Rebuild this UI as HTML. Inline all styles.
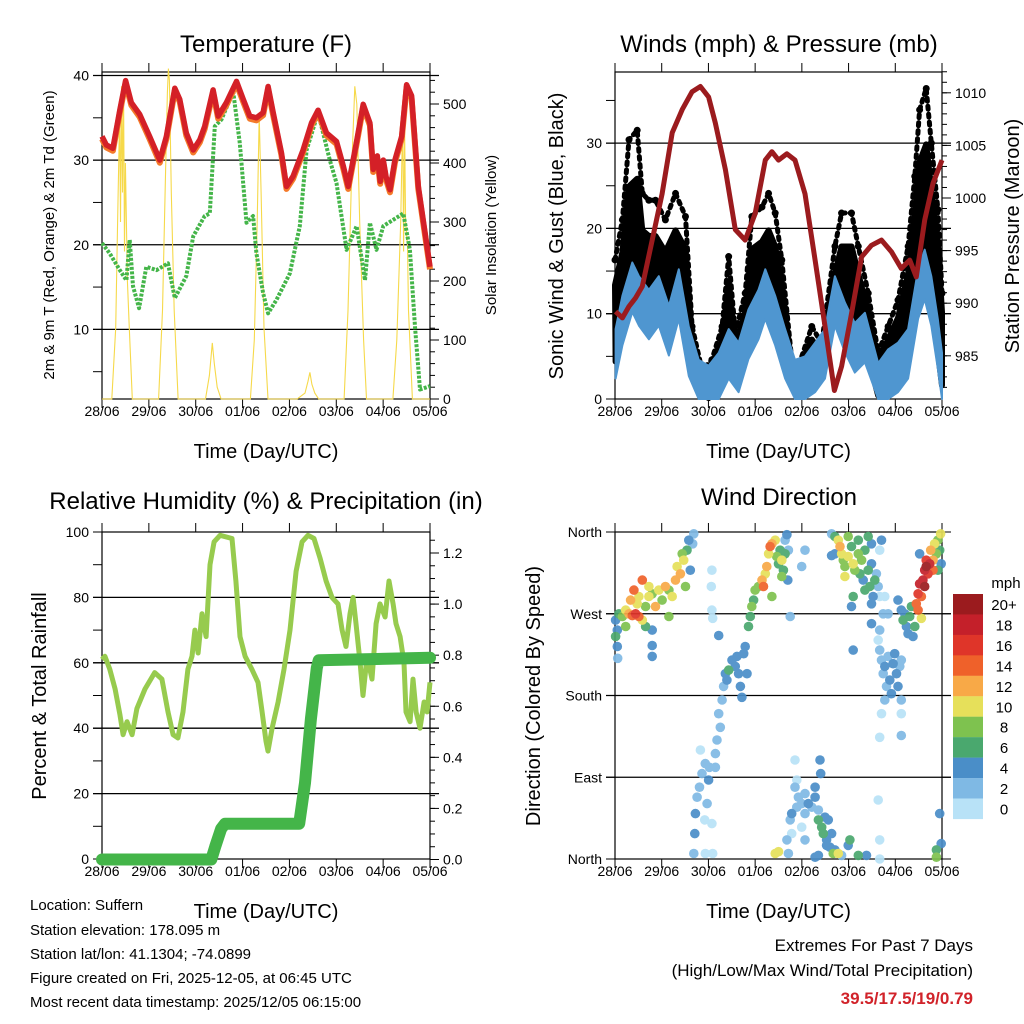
<!DOCTYPE html>
<html><head><meta charset="utf-8">
<style>
html,body{margin:0;padding:0;background:#fff;}
svg{display:block;font-family:"Liberation Sans",sans-serif;}
</style></head>
<body>
<svg id="chart" width="1024" height="1024" viewBox="0 0 1024 1024" xmlns="http://www.w3.org/2000/svg">
<text x="266" y="52" font-size="24" text-anchor="middle">Temperature (F)</text>
<text x="779" y="52" font-size="24" text-anchor="middle">Winds (mph) &amp; Pressure (mb)</text>
<text x="266" y="509" font-size="24" text-anchor="middle">Relative Humidity (%) &amp; Precipitation (in)</text>
<text x="779" y="505" font-size="24" text-anchor="middle">Wind Direction</text>
<g font-size="15">
<text x="30" y="910">Location: Suffern</text>
<text x="30" y="935">Station elevation: 178.095 m</text>
<text x="30" y="959">Station lat/lon: 41.1304; -74.0899</text>
<text x="30" y="983">Figure created on Fri, 2025-12-05, at 06:45 UTC</text>
<text x="30" y="1007">Most recent data timestamp: 2025/12/05 06:15:00</text>
</g>
<text x="973" y="951" font-size="17" text-anchor="end">Extremes For Past 7 Days</text>
<text x="973" y="976" font-size="17" text-anchor="end">(High/Low/Max Wind/Total Precipitation)</text>
<text x="973" y="1004" font-size="17" font-weight="bold" fill="#d1232a" text-anchor="end">39.5/17.5/19/0.79</text>
</svg>
<script>
// ---------- DATA ----------
const dayLabels = ["28/06","29/06","30/06","01/06","02/06","03/06","04/06","05/06"];
const tempHours = [0,2.2,5.6,9.1,12.1,15,19.3,24.4,29.6,33,37.3,39.8,43.2,46.7,50.1,52.6,56.9,59.5,63.7,68.9,72.3,75.7,79.1,82.5,85.1,87.7,91.9,94.5,97.9,103,107.3,110.7,115,120.1,123.6,126.1,130.4,133.8,137.2,138.9,141,142.5,144.1,145.5,147.5,150,153.5,156,158.6,162,168];
const tempValues = [32.8,31.8,31.4,35.9,39.4,36.8,35.4,32.8,30.0,32.8,38.5,37.2,33.2,31.2,32.4,34.0,38.3,35.2,36.8,39.3,37.2,35.2,35.0,35.6,38.7,35.6,30.9,26.9,28.1,31.2,34.4,35.9,33.2,32.2,29.3,26.9,32.2,36.6,34.4,28.9,30.5,27.5,30.0,28.0,26.5,30.0,32.8,38.9,37.6,26.9,17.4];
const dewHours = [0,3.9,9.1,12.5,14.2,15.9,19,22.7,27.9,33.8,37.3,43.2,46.7,52.6,55.2,57.8,61.2,67.2,70.6,74,77.4,79.1,82.5,85.1,89.4,96.2,101.3,104.8,110.7,116.7,120.1,125.3,130.4,134.7,137.2,140.6,144.1,154.3,157.7,160.3,162.9,168];
const dewValues = [20.2,19.0,17.0,15.8,20.6,15.1,12.5,17.4,17.0,17.8,13.7,16.3,21.0,23.4,23.7,34.0,34.8,38.1,32.0,22.6,23.4,19.0,14.3,11.9,13.5,16.6,22.2,31.2,35.6,30.0,27.3,19.4,22.2,15.8,22.6,19.4,22.2,23.7,19.4,10.3,2.9,3.3];
const solarHours = [0,5,7,8,9,9.5,10,10.5,11,11.5,12,13,14,15.5,29,31,32.5,33.5,34,34.5,35.5,37,39,53,55,56.5,57.5,59,61,76,78,79.5,80.5,81.5,83,85,100,104,105.5,106.5,107.5,109,111,124,126,128,129.5,130.5,132,134,135.5,149,151,153,154,154.5,155,155.5,156.5,157,159,168];
const solarValues = [0,0,120,300,480,300,530,350,540,250,400,200,120,0,0,150,380,520,560,540,350,150,0,0,40,95,60,20,0,0,100,300,480,350,120,0,0,10,30,45,25,10,0,0,150,400,530,500,300,100,0,0,100,300,480,250,460,300,260,150,0,0];
const windHours = [0.3,3.8,8.9,12.3,17.4,22.5,27.7,32.8,37.9,43,48.1,53.3,58.4,63.5,68.6,73.7,77.2,82.3,87.4,92.5,97.6,102.8,107.9,113,118.1,123.2,128.4,135.2,140.3,145.4,150.6,155.7,159.1,162.5,165.9,168];
const windValues = [5.4,9.3,13.2,11.6,10,11.6,8.1,12.4,5.7,1.8,1.1,2.6,5.4,3.8,7.7,10,12.4,9.3,5.4,1.8,2.2,3.8,5.4,11.6,8.5,6.1,7.3,1.4,3,3.8,5.4,12.4,14.7,11.6,6.5,2.6];
const gustHours = [0,3.8,7.2,11.4,14,17.4,20.8,25.9,31.1,36.2,39.6,44.7,49.8,55,58.4,61.8,66.9,70.3,75.5,78.9,82.3,85.7,90.8,94.2,101.1,106.2,113,116.4,121.5,125,130.1,135.2,140.3,145.4,150.6,154,156.5,159.9,162.5,165.9,168];
const gustValues = [16.3,21,30.4,31.5,24.1,23.3,23.3,21,24.1,21.4,8.5,3.4,4.6,8.5,16.7,7.7,12.4,21.4,22.5,24.1,21.8,16.3,4.6,3.8,8.5,6.5,17.9,21.8,21.8,17.9,12.4,5.4,8.5,11.6,17.9,26.1,33.9,36.4,30,22.2,12.4];
const presHours = [0.3,3.8,7.2,10.6,14,19.1,24.2,29.4,34.5,39.6,43.9,48.1,51.6,56.7,61.8,66.9,72,77.2,80.6,84,88.3,92.5,97.6,102.8,107.9,112.7,116.4,121.5,126.7,131.8,136.9,142,147.1,151.4,154.8,159.1,163.4,168];
const presValues = [989.2,988.6,989.7,990.5,991.6,996.0,1000.4,1006.2,1008.4,1010.1,1010.6,1009.6,1007.1,1002.7,997.0,996.0,998.5,1003.6,1004.4,1003.6,1004.2,1003.6,1000.4,994.1,987.8,981.7,984.0,989.0,994.4,995.5,996.0,994.9,993.3,994.1,992.5,997.9,1001.4,1003.6];
const rhHours = [0,1.5,4,6.7,9.2,10.8,12.8,15.4,17.9,22,27,30.7,33.8,36.4,38.9,41.5,44,46.1,47.6,49.2,51.2,53.3,55.3,57.4,60.5,66.6,68.6,70.7,73.3,76.8,79.9,82,84,85,87.1,90.2,93.2,96.3,99.4,102.5,105.5,108.6,111.7,114.8,117.8,120.9,123,125,127,128.6,130.1,132.2,133.7,135.8,138.3,140.4,142.4,145,147,149.1,150.6,152.7,154.7,155.7,157.8,159.3,160.9,162.9,165,166.5,168];
const rhValues = [61,62,58,52,44,38,42,38,46,52,57,55,45,38,37,45,58,62,70,63,75,68,90,97,99,98,85,68,62,58,54,45,36,33,40,48,58,70,88,97,99,98,92,85,80,78,70,65,75,80,72,60,50,62,55,72,78,74,85,78,72,68,60,45,42,55,45,40,48,45,54];
const precipHours = [0,56,58,61,63,101,104,107,110,111,168];
const precipValues = [0,0,0.05,0.12,0.14,0.14,0.3,0.55,0.75,0.78,0.79];
const dirHours = [0.3,1.2,2,3.8,5.5,7.2,8.9,10.6,12.3,14,8,9.7,11.4,14,15.7,17.4,19.1,20.8,22.5,24.2,25.9,27.7,29.4,31.1,31.9,33.6,35.3,36.2,37,37.9,38.7,39.9,40.5,19.1,19.1,19.1,1.2,1.4,0.3,15.7,5.5,27.7,12.3,17.4,34.5,
49.8,49.5,49.8,50.2,
40.5,41,41.3,42.2,43.4,44.7,46.1,46.4,47.3,48.1,48.5,49.8,50.2,43.9,46.4,51.6,51.6,52.4,54.1,53.3,55,55.8,56.7,58.4,57.5,60.1,61.8,63.5,64.4,65.2,62.7,66.1,66.9,67.8,53.3,68.6,69.5,70.3,71.2,72,73.7,75.5,76.3,77.2,78,78.9,79.7,80.6,82.3,83.1,84,84.8,85.7,86.5,87.4,85.7,80.6,87.4,88.3,89.1,90,95.9,97.6,88.8,
89.1,88.3,90,90.8,92.5,93.4,94.2,95.9,97.6,97.6,99.3,101.1,102.8,102.8,104.5,90.8,92.5,93.4,95.9,97.6,104.5,106.2,107,107.9,108.7,109.6,110.4,111.3,112.1,113,114.7,116.4,105.3,105.7,102.8,82.3,84,119.8,120.7,125,129.2,136,136,135.2,104.5,108.7,
111.3,113,114.7,115.6,116.4,117.3,118.1,119.8,121.5,122.4,123.2,125,125,125.8,126.7,127.5,128.4,130.1,130.9,131.8,131.8,132.6,133.5,134.3,135.2,136,138.6,128.4,122.4,121.5,118.1,113,111.3,119.8,130.1,131.8,136,136.9,
131.8,135.2,136,136.9,137.8,138.6,139.5,140.3,141.2,142,142.9,143.7,144.6,145.4,146.3,147.1,147.1,138.6,137.8,140.3,136,147.1,122.4,145.4,147.1,136.9,136,147.1,
148,148.9,149.7,150.6,151.4,152.3,153.1,154,154.8,155.7,156.5,157.4,158.2,159.1,159.9,160.8,161.7,162.2,163.4,164.2,165.1,165.9,166.8,167.6,167.3,157.4,155.7,159.1,159.9,163.4,165.9,166.8,167.6,165.1,165.1,156.5];
const dirDegrees = [263,252,270,267,274,270,268,270,267,263,285,296,281,307,278,289,292,278,296,285,300,296,289,307,322,314,329,300,340,351,318,347,358,252,235,223,234,221,245,256,256,267,289,300,336,
318,300,274,265,
6,28,50,68,79,94,43,6,61,87,101,39,6,120,105,116,101,131,145,160,175,190,204,208,197,219,212,204,190,178,223,226,234,204,246,256,267,278,285,296,300,307,300,314,322,336,344,347,351,333,325,340,329,318,336,311,289,351,357,340,267,322,340,307,
6,21,43,50,79,57,68,61,72,50,61,57,79,68,54,28,109,87,35,21,43,35,28,46,21,43,13,28,6,10,6,4,109,94,2,6,8,15,21,4,4,21,0,65,4,15,
358,355,351,344,336,329,322,333,344,325,318,351,336,314,329,307,340,318,300,347,325,289,307,314,300,289,289,296,289,278,311,336,334,355,355,281,340,351,
259,241,230,219,204,212,190,223,197,182,215,226,204,190,212,219,175,175,270,270,134,136,230,285,274,160,252,160,
263,270,256,248,267,278,245,256,281,292,303,289,307,318,329,314,325,340,329,347,336,351,340,325,358,265,274,300,322,318,318,50,17,10,2,336];
const dirSpeeds = [4,4,6,8,10,12,14,16,14,10,12,14,10,14,8,10,8,12,10,8,12,8,10,12,10,12,10,8,6,4,4,2,2,4,4,4,4,2,6,6,8,8,10,10,8,
0,0,0,0,
2,4,4,2,2,2,0,0,2,4,2,0,0,0,2,2,2,2,2,2,2,2,4,6,4,4,4,4,4,4,4,4,4,4,4,6,6,8,6,8,8,12,14,10,12,10,14,12,10,8,6,6,10,6,6,8,8,2,4,2,2,2,2,4,
2,2,2,4,2,2,2,2,2,2,4,2,4,4,2,0,0,0,0,2,6,6,6,4,4,4,4,4,8,4,10,2,4,4,4,10,10,4,6,6,4,0,0,0,4,4,
2,6,10,12,10,8,8,10,6,10,8,6,8,6,8,4,6,6,6,4,4,4,6,2,2,0,0,6,6,4,10,4,4,8,6,4,0,4,
4,0,2,2,2,4,2,2,4,4,4,4,4,4,2,2,2,2,2,2,0,2,4,4,4,0,2,0,
6,4,4,4,6,6,4,6,14,16,18,14,18,18,16,16,18,12,12,10,8,8,6,4,10,10,14,20,20,14,6,4,4,6,8,4];
const speedBins = ["0","2","4","6","8","10","12","14","16","18","20+"];
const speedColors = ["#b8e2f7","#7fb9e4","#4a8ec8","#4aa86e","#7ec24f","#e6e05a","#f8a947","#ef612a","#df3529","#c4202a","#9b1b1e"];

// ---------- HELPERS ----------
const svg = document.getElementById('chart');
const NS = 'http://www.w3.org/2000/svg';
function mk(tag, attrs, parent) {
  const e = document.createElementNS(NS, tag);
  for (const k in attrs) e.setAttribute(k, attrs[k]);
  (parent || svg).appendChild(e);
  return e;
}
function lin(d0, d1, r0, r1) { return v => r0 + (v - d0) / (d1 - d0) * (r1 - r0); }
function pathFrom(xs, ys, fx, fy) {
  return xs.map((h, i) => (i ? 'L' : 'M') + fx(h).toFixed(1) + ' ' + fy(ys[i]).toFixed(1)).join(' ');
}
function txt(x, y, s, size, anchor, parent, rot) {
  const t = mk('text', {x: x, y: y, 'font-size': size, 'text-anchor': anchor || 'middle'}, parent);
  if (rot) t.setAttribute('transform', 'rotate(' + rot + ' ' + x + ' ' + y + ')');
  t.textContent = s;
  return t;
}
function frame(x0, x1, y0, y1, name) {
  const g = mk('g', {});
  
  
  const fx = lin(0, 168, x0, x1);
  for (let d = 0; d < 8; d++) {
    const x = fx(d * 24);
    mk('line', {x1: x, y1: y1, x2: x, y2: y1 + 9, stroke: '#000', 'stroke-width': 1}, g);
    mk('line', {x1: x, y1: y0, x2: x, y2: y0 - 9, stroke: '#000', 'stroke-width': 1}, g);
    const t = txt(x, y1 + 17, dayLabels[d], 14, 'middle', g);
    
    
  }
  const tt = txt((x0 + x1) / 2, y1 + 59, 'Time (Day/UTC)', 20, 'middle', g);
  
  
  return {g: g, fx: fx};
}
function box(x0, x1, y0, y1, g) {
  mk('rect', {x: x0, y: y0, width: x1 - x0, height: y1 - y0, fill: 'none', stroke: '#000', 'stroke-width': 1.2}, g);
}
function leftTicks(ticks, labels, fy, x0, x1, grid, g, minor) {
  ticks.forEach((v, i) => {
    const y = fy(v);
    mk('line', {x1: x0 - 9, y1: y, x2: x0, y2: y, stroke: '#000'}, g);
    if (labels[i] !== '') {
      const t = txt(x0 - 13, y + 5, labels[i], 14, 'end', g);
      
      
    }
    if (grid[i]) mk('line', {x1: x0 - 9, y1: y, x2: x1 + 9, y2: y, stroke: '#000', 'stroke-width': 1.3}, g);
  });
  (minor || []).forEach(v => mk('line', {x1: x0 - 9, y1: fy(v), x2: x0, y2: fy(v), stroke: '#000'}, g));
}
function rightTicks(ticks, labels, fy, x1, g, minor) {
  ticks.forEach((v, i) => {
    const y = fy(v);
    mk('line', {x1: x1, y1: y, x2: x1 + 9, y2: y, stroke: '#000'}, g);
    const t = txt(x1 + 13, y + 5, labels[i], 14, 'start', g);
    
    
  });
  (minor || []).forEach(v => mk('line', {x1: x1, y1: fy(v), x2: x1 + 5, y2: fy(v), stroke: '#000'}, g));
}
function range(a, b, s) { const r = []; for (let v = a; v <= b + 1e-9; v += s) r.push(+v.toFixed(3)); return r; }

// ---------- TEMPERATURE PANEL ----------
(function () {
  const X0 = 102, X1 = 430, Y0 = 72, Y1 = 399;
  const f = frame(X0, X1, Y0, Y1, 'temperature');
  const fx = f.fx, g = f.g;
  const fy = lin(0, 40, 414, 75.5);
  const fs = lin(0, 500, 399, 104);
  const solar = mk('path', {d: pathFrom(solarHours, solarValues, fx, fs), fill: 'none', stroke: '#f6d94a', 'stroke-width': 1.1});
  
  
  const dew = mk('path', {d: pathFrom(dewHours, dewValues, fx, fy), fill: 'none', stroke: '#44b549', 'stroke-width': 4, 'stroke-dasharray': '3 1.5', 'stroke-linejoin': 'round'});
  
  
  const t9 = mk('path', {d: pathFrom(tempHours, tempValues.map(v => v - 0.3), fx, fy), fill: 'none', stroke: '#f47a2a', 'stroke-width': 6, 'stroke-linejoin': 'round'});
  
  
  const t2 = mk('path', {d: pathFrom(tempHours, tempValues, fx, fy), fill: 'none', stroke: '#d42027', 'stroke-width': 5.5, 'stroke-linejoin': 'round'});
  
  
  box(X0, X1, Y0, Y1, g);
  leftTicks([10, 20, 30, 40], ['10', '20', '30', '40'], fy, X0, X1, [1, 1, 1, 1], g, [5, 15, 25, 35]);
  rightTicks([0, 100, 200, 300, 400, 500], ['0', '100', '200', '300', '400', '500'], fs, X1, g, range(20, 540, 20));
  const a = txt(54, 235, '2m & 9m T (Red, Orange) & 2m Td (Green)', 15, 'middle', g, -90);
  
  
  const b = txt(496, 235, 'Solar Insolation (Yellow)', 15, 'middle', g, -90);
  
  
})();

// ---------- WINDS PANEL ----------
(function () {
  const X0 = 615, X1 = 942, Y0 = 72, Y1 = 399;
  const f = frame(X0, X1, Y0, Y1, 'winds');
  const fx = f.fx, g = f.g;
  const fy = lin(0, 10, 399, 313.7);
  const fp = lin(1000, 1005, 198, 145.4);
  // gust cloud: dense core plus scattered envelope dots
  let d = pathFrom(gustHours, gustValues.map(v => v * 0.82), fx, fy);
  for (let i = windHours.length - 1; i >= 0; i--) d += ' L' + fx(windHours[i]).toFixed(1) + ' ' + fy(Math.max(0, windValues[i] - 1)).toFixed(1);
  const gust = mk('path', {d: d + ' Z', fill: '#000', stroke: '#000', 'stroke-width': 6, 'stroke-linejoin': 'round'});
  
  
  const gustOuter = mk('path', {d: pathFrom(gustHours, gustValues, fx, fy), fill: 'none', stroke: '#000', 'stroke-width': 5, 'stroke-dasharray': '3 5', 'stroke-linecap': 'round'});
  
  
  gustHours.forEach((h, i) => {
    const c = mk('circle', {cx: fx(h), cy: fy(gustValues[i]), r: 3.5, fill: '#000'});
    
    
  });
  // wind band
  let w = pathFrom(windHours, windValues.map(v => v + 2.8), fx, fy);
  for (let i = windHours.length - 1; i >= 0; i--) w += ' L' + fx(windHours[i]).toFixed(1) + ' ' + fy(Math.max(0, windValues[i] - 3)).toFixed(1);
  const wind = mk('path', {d: w + ' Z', fill: '#4f96d0', stroke: '#4f96d0', 'stroke-width': 2, 'stroke-linejoin': 'round'});
  
  
  const pres = mk('path', {d: pathFrom(presHours, presValues, fx, fp), fill: 'none', stroke: '#9b1b1e', 'stroke-width': 5, 'stroke-linejoin': 'round'});
  
  
  box(X0, X1, Y0, Y1, g);
  leftTicks([0, 10, 20, 30], ['0', '10', '20', '30'], fy, X0, X1, [0, 1, 1, 1], g, [5, 15, 25, 35]);
  rightTicks([985, 990, 995, 1000, 1005, 1010], ['985', '990', '995', '1000', '1005', '1010'], fp, X1, g, range(982, 1012, 1));
  const a = txt(563, 236, 'Sonic Wind & Gust (Blue, Black)', 20, 'middle', g, -90);
  
  
  const b = txt(1019, 236, 'Station Pressure (Maroon)', 20, 'middle', g, -90);
  
  
})();

// ---------- RH PANEL ----------
(function () {
  const X0 = 102, X1 = 430, Y0 = 532, Y1 = 859;
  const f = frame(X0, X1, Y0, Y1, 'humidity');
  const fx = f.fx, g = f.g;
  const fy = lin(0, 100, 859, 532);
  const fr = lin(0, 1.2, 859.5, 553);
  const rh = mk('path', {d: pathFrom(rhHours, rhValues, fx, fy), fill: 'none', stroke: '#97cb4e', 'stroke-width': 5, 'stroke-linejoin': 'round'});
  
  
  const pr = mk('path', {d: pathFrom(precipHours, precipValues, fx, fr), fill: 'none', stroke: '#44b549', 'stroke-width': 12, 'stroke-linecap': 'round', 'stroke-linejoin': 'round'});
  
  
  box(X0, X1, Y0, Y1, g);
  leftTicks([0, 20, 40, 60, 80, 100], ['0', '20', '40', '60', '80', '100'], fy, X0, X1, [0, 1, 1, 1, 1, 0], g, [10, 30, 50, 70, 90]);
  rightTicks([0, 0.2, 0.4, 0.6, 0.8, 1.0, 1.2], ['0.0', '0.2', '0.4', '0.6', '0.8', '1.0', '1.2'], fr, X1, g, range(0.05, 1.25, 0.05));
  const a = txt(46, 696, 'Percent & Total Rainfall', 20, 'middle', g, -90);
  
  
})();

// ---------- WIND DIRECTION PANEL ----------
(function () {
  const X0 = 615, X1 = 942, Y0 = 532, Y1 = 859;
  const f = frame(X0, X1, Y0, Y1, 'wind-direction');
  const fx = f.fx, g = f.g;
  const fy = lin(0, 360, 859, 532);
  const order = dirHours.map((h, i) => i).sort((a, b) => dirSpeeds[a] - dirSpeeds[b]);
  const pg = mk('g', {opacity: 0.92});
  
  
  order.forEach(i => {
    const bin = Math.min(10, Math.floor(dirSpeeds[i] / 2));
    const c = mk('circle', {cx: fx(dirHours[i]).toFixed(1), cy: fy(dirDegrees[i]).toFixed(1), r: 4.8, fill: speedColors[bin]}, pg);
    
    
  });
  box(X0, X1, Y0, Y1, g);
  leftTicks([0, 90, 180, 270, 360], ['North', 'East', 'South', 'West', 'North'], fy, X0, X1, [0, 1, 1, 1, 0], g);
  [0, 90, 180, 270, 360].forEach(v => mk('line', {x1: X1, y1: fy(v), x2: X1 + 9, y2: fy(v), stroke: '#000'}, g));
  const a = txt(540, 696, 'Direction (Colored By Speed)', 20, 'middle', g, -90);
  
  
  const lg = mk('g', {});
  
  
  const t = txt(1006, 588, 'mph', 15, 'middle', lg);
  
  
  for (let k = 0; k < 11; k++) {
    const idx = 10 - k;
    const y = 594 + k * 20.45;
    const r = mk('rect', {x: 953, y: y, width: 30, height: 20.6, fill: speedColors[idx]}, lg);
    
    
    const l = txt(1004, y + 16, speedBins[idx], 15, 'middle', lg);
    
    
  }
})();
</script>
</body></html>
